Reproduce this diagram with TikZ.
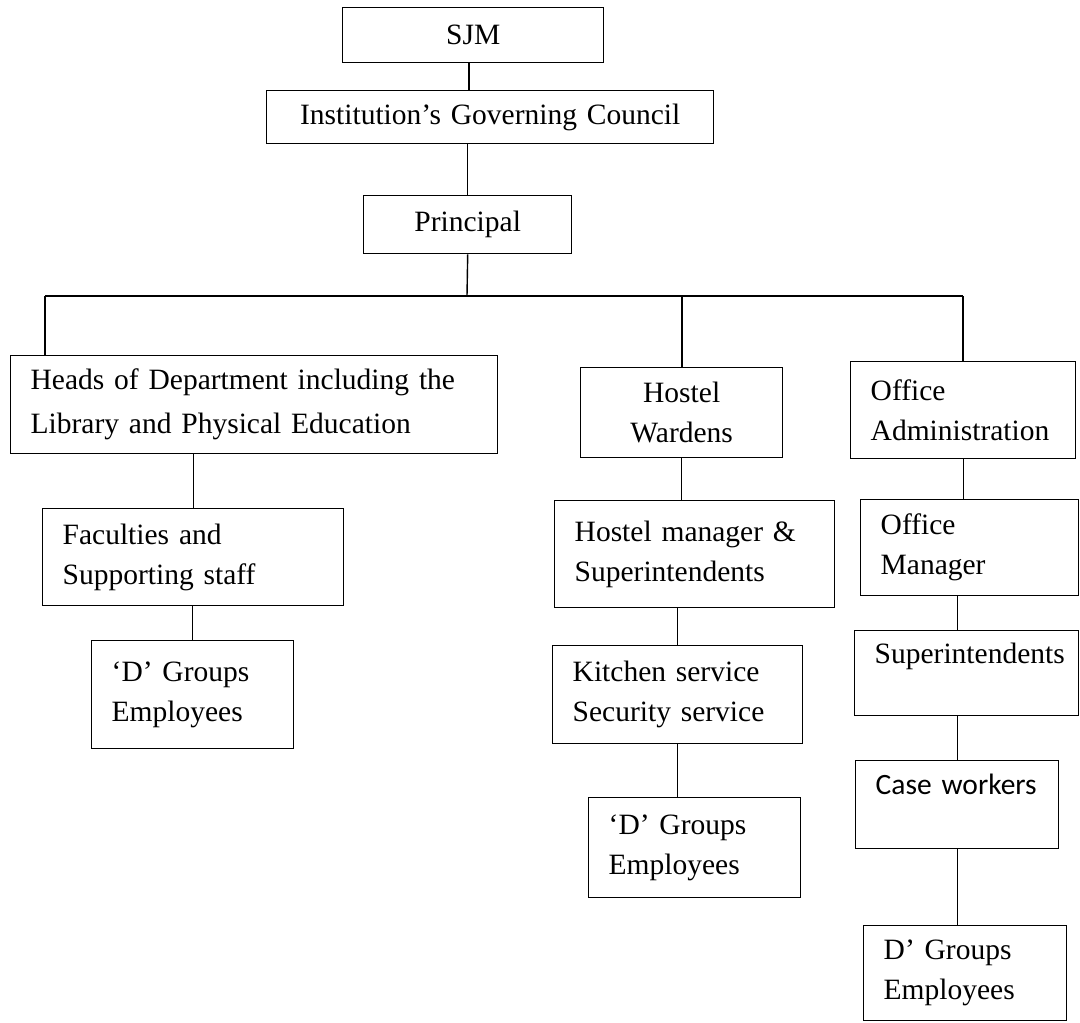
\documentclass[tikz,border=0pt]{standalone}
\usepackage{fontspec}
\setmainfont{Liberation Serif}
\newfontfamily\calib{Carlito}
\begin{document}
\begin{tikzpicture}[x=1pt,y=-1pt,
  box/.style={draw, line width=1.4pt, rectangle, anchor=north west,
    inner xsep=20pt, inner ysep=0pt, align=left,
    font=\fontsize{29.5}{40}\selectfont},
  cbox/.style={box, align=center},
  link/.style={line width=1.4pt}]
\useasboundingbox (0,0) rectangle (1080,1023);

% top chain
\node[cbox, minimum width=261pt, text width=221pt, minimum height=55pt] (sjm) at (342,7) {SJM};
\node[cbox, minimum width=447pt, text width=407pt, minimum height=53pt] (inst) at (266,90) {Institution’s Governing Council};
\node[cbox, minimum width=208pt, text width=168pt, minimum height=58pt] (prin) at (363,195) {Principal};

% left column
\node[box, minimum width=487pt, text width=447pt, minimum height=98pt,
  font=\fontsize{29.5}{44}\selectfont] (heads) at (10,355) {Heads of Department including the\\Library and Physical Education};
\node[box, minimum width=301pt, text width=261pt, minimum height=97pt] (fac) at (42,508) {Faculties and\\Supporting staff};
\node[box, minimum width=202pt, text width=162pt, minimum height=108pt] (dl) at (91,640) {‘D’ Groups\\Employees};

% middle column
\node[cbox, minimum width=202pt, text width=162pt, minimum height=90pt] (hw) at (580,367) {Hostel\\Wardens};
\node[box, minimum width=280pt, text width=240pt, minimum height=107pt] (mgr) at (554,500) {Hostel manager \&\\Superintendents};
\node[box, minimum width=250pt, text width=210pt, minimum height=98pt] (kit) at (552,645) {Kitchen service\\Security service};
\node[box, minimum width=212pt, text width=172pt, minimum height=100pt] (dm) at (588,797) {‘D’ Groups\\Employees};

% right column
\node[box, minimum width=225pt, text width=185pt, minimum height=97pt] (oa) at (850,361) {Office\\Administration};
\node[box, minimum width=218pt, text width=178pt, minimum height=96pt] (om) at (860,499) {Office\\Manager};
\node[box, minimum width=224pt, text width=184pt, minimum height=85pt] (sup) at (854,630) {Superintendents\\\mbox{}};
\node[box, minimum width=203pt, text width=163pt, minimum height=88pt,
  font=\calib\fontsize{29.5}{40}\selectfont] (case) at (855,760) {Case workers\\\mbox{}};
\node[box, minimum width=203pt, text width=163pt, minimum height=95pt] (dr) at (863,925) {D’ Groups\\Employees};

% connectors
\coordinate (busL) at (45,296);
\coordinate (busR) at (963,296);
\coordinate (busM) at (467,296);
\coordinate (busH) at (682,296);

\draw[link] (sjm.south -| 469,0) -- (inst.north -| 469,0);
\draw[link] (inst.south -| prin.north) -- (prin.north);
\draw[link] (prin.south) -- (busM);
\draw[link] (busL) -- (busR);
\draw[link] (busL) -- (busL |- heads.north);
\draw[link] (busH) -- (busH |- hw.north);
\draw[link] (busR) -- (busR |- oa.north);

\draw[link] (heads.south -| fac.north) -- (fac.north);
\draw[link] (fac.south -| dl.north) -- (dl.north);

\draw[link] (hw.south) -- (hw.south |- mgr.north);
\draw[link] (kit.north |- mgr.south) -- (kit.north);
\draw[link] (kit.south) -- (kit.south |- dm.north);

\draw[link] (oa.south) -- (oa.south |- om.north);
\draw[link] (case.north |- om.south) -- (case.north |- sup.north);
\draw[link] (case.north |- sup.south) -- (case.north);
\draw[link] (case.south) -- (case.south |- dr.north);
\end{tikzpicture}
\end{document}
